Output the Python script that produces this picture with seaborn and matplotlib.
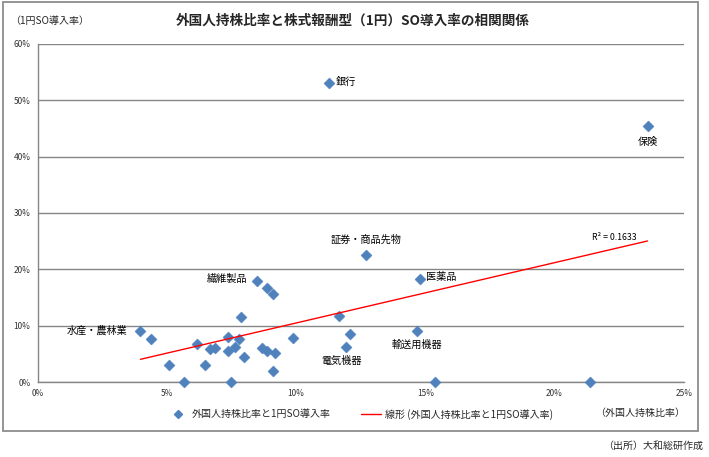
import numpy as np
import pandas as pd
import matplotlib
matplotlib.use('Agg')
import matplotlib.pyplot as plt
from matplotlib.patches import Rectangle
from matplotlib.lines import Line2D
from matplotlib.ticker import FuncFormatter
import seaborn as sns

# foreign ownership ratio (%) and 1-yen stock option adoption rate (%), one point per TSE sector
foreign_ratio = [3.98, 4.39, 5.10, 5.67, 6.17, 6.48, 6.68, 6.88, 7.37, 7.37, 7.49,
                 7.63, 7.81, 7.87, 8.00, 8.49, 8.69, 8.89, 8.89, 9.10, 9.10, 9.20,
                 9.90, 11.28, 11.67, 11.93, 12.10, 12.70, 14.69, 14.80, 15.38, 21.38, 23.60]
so_rate = [9.04, 7.60, 3.10, 0.00, 6.70, 2.95, 5.85, 6.10, 7.95, 5.50, 0.00,
           6.15, 7.60, 11.50, 4.43, 17.90, 6.00, 5.44, 16.60, 15.60, 1.90, 5.08,
           7.90, 53.07, 11.76, 6.15, 8.60, 22.46, 9.04, 18.20, 0.00, 0.00, 45.50]
sector = ['水産・農林業', '', '', '', '', '', '', '', '', '', '',
          '', '', '', '', '繊維製品', '', '', '', '', '', '',
          '', '銀行', '', '電気機器', '', '証券・商品先物', '輸送用機器', '医薬品', '', '', '保険']

x_ticks = [0, 5, 10, 15, 20, 25]
y_ticks = [0, 10, 20, 30, 40, 50, 60]

df = pd.DataFrame({'foreign': foreign_ratio, 'so': so_rate, 'sector': sector})

# label placement (offset in points, alignment)
label_pos = {
    '水産・農林業': (-9, 0, 'right'),
    '繊維製品': (-7, 1.5, 'right'),
    '銀行': (4.5, 0.5, 'left'),
    '保険': (0, -12, 'center'),
    '証券・商品先物': (0, 11.5, 'center'),
    '医薬品': (4, 1.5, 'left'),
    '輸送用機器': (0, -9.5, 'center'),
    '電気機器': (-3, -10, 'center'),
}

sns.set_theme(style='white')
plt.rcParams['font.family'] = ['Noto Sans CJK JP', 'DejaVu Sans']
plt.rcParams['axes.unicode_minus'] = False

grid_c = '#868686'
fig = plt.figure(figsize=(7.09, 4.57), dpi=100)
ax = fig.add_axes([0.0529, 0.164, 0.9115, 0.740])

sns.scatterplot(data=df, x='foreign', y='so', marker='D', s=32, color='#4F81BD',
                edgecolor='#4F81BD', linewidth=0.3, ax=ax, zorder=3, legend=False,
                clip_on=False)
sns.regplot(data=df, x='foreign', y='so', scatter=False, ci=None, truncate=True,
            line_kws={'color': '#FF0000', 'lw': 1.0, 'zorder': 4}, ax=ax)

ax.set_xlim(0, 25)
ax.set_ylim(0, 60)
ax.set_xticks(x_ticks)
ax.set_yticks(y_ticks)
ax.xaxis.set_major_formatter(FuncFormatter(lambda v, p: f'{v:.0f}%'))
ax.yaxis.set_major_formatter(FuncFormatter(lambda v, p: f'{v:.0f}%'))
ax.tick_params(axis='both', labelsize=6, colors='#333333', length=3, width=0.8,
               direction='out', pad=2)
ax.tick_params(axis='both', color=grid_c)
ax.yaxis.grid(True, color=grid_c, lw=1.0)
ax.xaxis.grid(False)
ax.set_axisbelow(True)
for side in ['top', 'right']:
    ax.spines[side].set_visible(False)
for side in ['left', 'bottom']:
    ax.spines[side].set_color(grid_c)
    ax.spines[side].set_linewidth(1.0)
ax.set_xlabel('')
ax.set_ylabel('')
ax.patch.set_alpha(0)

for _, r in df[df['sector'] != ''].iterrows():
    dx, dy, ha = label_pos[r['sector']]
    ax.annotate(r['sector'], (r['foreign'], r['so']), xytext=(dx, dy),
                textcoords='offset points', ha=ha, va='center', fontsize=7.3,
                color='black')

ax.text(21.45, 25.6, 'R² = 0.1633', fontsize=6.3, color='black', ha='left', va='center')

# frame around chart area
fig.patches.append(Rectangle((3 / 709, 1 - 431 / 457), 695 / 709, 429 / 457,
                             transform=fig.transFigure, fill=False,
                             edgecolor='#8C8C8C', lw=1.3))

fig.text(0.497, 0.955, '外国人持株比率と株式報酬型（1円）SO導入率の相関関係',
         ha='center', va='center', fontsize=9.8, fontweight='bold')
fig.text(0.014, 0.955, '（1円SO導入率）', ha='left', va='center', fontsize=7.2)

handles = [Line2D([], [], marker='D', ls='none', color='#4F81BD', ms=4.5),
           Line2D([], [], color='#FF0000', lw=1.0)]
fig.legend(handles, ['外国人持株比率と1円SO導入率', '線形 (外国人持株比率と1円SO導入率)'],
           loc='center', bbox_to_anchor=(0.508, 0.094), ncol=2, frameon=False,
           fontsize=7.2, handlelength=2.0, columnspacing=3.0, handletextpad=0.4)
fig.text(0.903, 0.096, '（外国人持株比率）', ha='center', va='center', fontsize=7.2)
fig.text(0.992, 0.024, '（出所）大和総研作成', ha='right', va='center', fontsize=7.2)

fig.savefig('out.png', dpi=100)
